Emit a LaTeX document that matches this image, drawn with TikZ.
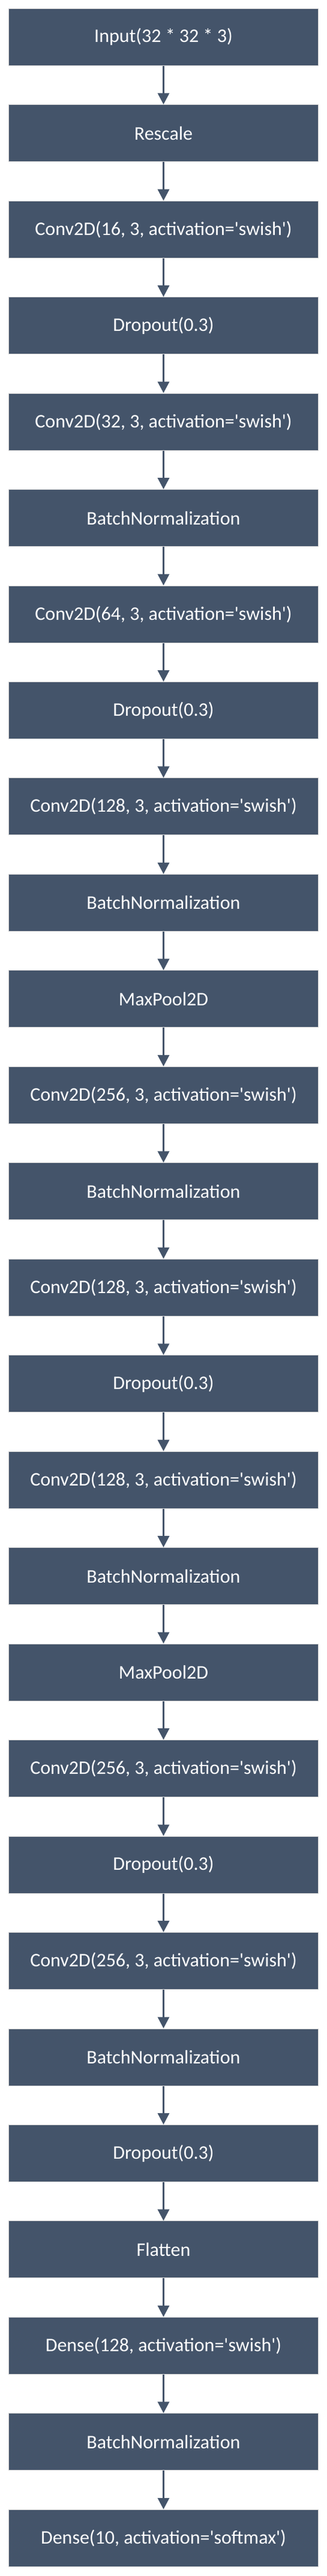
\documentclass[tikz,border=0pt]{standalone}
\usepackage{fontspec}
\newfontfamily\layerfont{Carlito}
\usepackage{tikz}
\usetikzlibrary{positioning,arrows}
\usetikzlibrary{shapes}
\usetikzlibrary{arrows.meta}
\usepackage{xcolor}
\definecolor{slate}{HTML}{44546A}
\definecolor{rim}{HTML}{D4D4D4}

\begin{document}
\begin{tikzpicture}[y=160.46pt]
	\useasboundingbox (-272.5pt,47.5pt+14.3pt) rectangle (272.5pt,-4235.2pt);
	\tikzstyle{every node}=[rectangle, fill=slate, draw=rim, line width=1pt, text=white, font=\layerfont\fontsize{32}{38}\selectfont, minimum width=515pt, minimum height=95pt, inner sep=0pt]
	\draw (0,0) node (l1) {Input(32 * 32 * 3)};
	\draw (0,-1) node (l2) {Rescale};
	\draw (0,-2) node (l3) {Conv2D(16, 3, activation='swish')};
	\draw (0,-3) node (l4) {Dropout(0.3)};
	\draw (0,-4) node (l5) {Conv2D(32, 3, activation='swish')};
	\draw (0,-5) node (l6) {BatchNormalization};
	\draw (0,-6) node (l7) {Conv2D(64, 3, activation='swish')};
	\draw (0,-7) node (l8) {Dropout(0.3)};
	\draw (0,-8) node (l9) {Conv2D(128, 3, activation='swish')};
	\draw (0,-9) node (l10) {BatchNormalization};
	\draw (0,-10) node (l11) {MaxPool2D};
	\draw (0,-11) node (l12) {Conv2D(256, 3, activation='swish')};
	\draw (0,-12) node (l13) {BatchNormalization};
	\draw (0,-13) node (l14) {Conv2D(128, 3, activation='swish')};
	\draw (0,-14) node (l15) {Dropout(0.3)};
	\draw (0,-15) node (l16) {Conv2D(128, 3, activation='swish')};
	\draw (0,-16) node (l17) {BatchNormalization};
	\draw (0,-17) node (l18) {MaxPool2D};
	\draw (0,-18) node (l19) {Conv2D(256, 3, activation='swish')};
	\draw (0,-19) node (l20) {Dropout(0.3)};
	\draw (0,-20) node (l21) {Conv2D(256, 3, activation='swish')};
	\draw (0,-21) node (l22) {BatchNormalization};
	\draw (0,-22) node (l23) {Dropout(0.3)};
	\draw (0,-23) node (l24) {Flatten};
	\draw (0,-24) node (l25) {Dense(128, activation='swish')};
	\draw (0,-25) node (l26) {BatchNormalization};
	\draw (0,-26) node (l27) {Dense(10, activation='softmax')};
	\tikzset{flow/.style={draw=slate, line width=3.5pt, -{Triangle[length=19pt, width=19pt]}}}
	\draw [flow] (l1) to (l2);
	\draw [flow] (l2) to (l3);
	\draw [flow] (l3) to (l4);
	\draw [flow] (l4) to (l5);
	\draw [flow] (l5) to (l6);
	\draw [flow] (l6) to (l7);
	\draw [flow] (l7) to (l8);
	\draw [flow] (l8) to (l9);
	\draw [flow] (l9) to (l10);
	\draw [flow] (l10) to (l11);
	\draw [flow] (l11) to (l12);
	\draw [flow] (l12) to (l13);
	\draw [flow] (l13) to (l14);
	\draw [flow] (l14) to (l15);
	\draw [flow] (l15) to (l16);
	\draw [flow] (l16) to (l17);
	\draw [flow] (l17) to (l18);
	\draw [flow] (l18) to (l19);
	\draw [flow] (l19) to (l20);
	\draw [flow] (l20) to (l21);
	\draw [flow] (l21) to (l22);
	\draw [flow] (l22) to (l23);
	\draw [flow] (l23) to (l24);
	\draw [flow] (l24) to (l25);
	\draw [flow] (l25) to (l26);
	\draw [flow] (l26) to (l27);
\end{tikzpicture}
\end{document}
